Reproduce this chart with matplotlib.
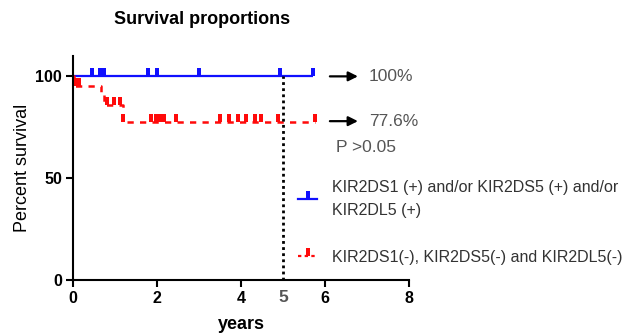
import numpy as np
import matplotlib
matplotlib.use("Agg")
import matplotlib.pyplot as plt
from matplotlib.lines import Line2D
from matplotlib.path import Path

plt.rcParams['font.family'] = ['Liberation Sans', 'DejaVu Sans']

# blue group: no events, censored patients only
blue_end = 5.71
blue_censor = [0.45, 0.64, 0.74, 1.79, 2.0, 3.0, 4.93, 5.71]
# red group: step times and survival (%)
red_times = [0, 0.03, 0.66, 0.73, 1.18]
red_surv = [100, 95.4, 91.2, 86.1, 77.6]
red_end = 5.76
red_censor = [0.06, 0.15, 0.8, 0.98, 1.12, 1.2, 1.85, 1.97, 2.06, 2.16, 2.45,
              3.5, 3.72, 3.92, 4.12, 4.33, 4.48, 4.88, 5.76]

labels = ["KIR2DS1 (+) and/or KIR2DS5 (+) and/or\nKIR2DL5 (+)",
          "KIR2DS1(-), KIR2DS5(-) and KIR2DL5(-)"]
blue = "#1010ff"
red = "#ff0a0a"
gray = "#555555"

# censor tick marker (rectangle sitting on top of the line)
tick = Path([(-0.32, 0), (0.32, 0), (0.32, 1), (-0.32, 1), (-0.32, 0)],
            [Path.MOVETO, Path.LINETO, Path.LINETO, Path.LINETO, Path.CLOSEPOLY])


def surv_at(t, times, surv):
    idx = np.searchsorted(times, t, side='right') - 1
    return np.array(surv)[idx]


fig = plt.figure(figsize=(6.29, 3.33), dpi=100)
ax = fig.add_axes([73/629, 1-280/333, 336/629, 224/333])

# blue curve
ax.plot([0, blue_end], [100, 100], color=blue, lw=1.6, solid_capstyle='butt')
ax.plot(blue_censor, [100]*len(blue_censor), ls='none', marker=tick, ms=11,
        color=blue, mew=0)

# red curve
rx = list(red_times) + [red_end]
ry = list(red_surv) + [red_surv[-1]]
ax.step(rx, ry, where='post', color=red, lw=1.8, ls=(0, (2.5, 2.5)))
ax.plot(red_censor, surv_at(red_censor, red_times, red_surv), ls='none',
        marker=tick, ms=11, color=red, mew=0)

# 5-year line
ax.plot([5, 5], [0, 100], color='black', lw=2, ls=(0, (1, 1.2)))

ax.set_xlim(0, 8)
ax.set_ylim(0, 110)
ax.set_xticks([0, 2, 4, 6, 8])
ax.set_yticks([0, 50, 100])
ax.spines['top'].set_visible(False)
ax.spines['right'].set_visible(False)
ax.spines['left'].set_linewidth(1.5)
ax.spines['bottom'].set_linewidth(1.5)
ax.spines['bottom'].set_bounds(0, 8)
ax.tick_params(width=1.5, length=5, labelsize=11.5, pad=3)
for lab in ax.get_xticklabels() + ax.get_yticklabels():
    lab.set_fontweight('bold')
ax.set_xlabel("years", fontsize=13, fontweight='bold', labelpad=7)
ax.set_ylabel("Percent survival", fontsize=13, labelpad=3)

ax.annotate("5", xy=(5, 0), xycoords='data', xytext=(0, -7),
            textcoords='offset points', ha='center', va='top',
            fontsize=12.5, fontweight='bold', color=gray, annotation_clip=False)

# arrows and percentages
for yv, txt in [(100, "100%"), (78, "77.6%")]:
    ax.annotate("", xy=(6.85, yv), xytext=(6.05, yv),
                arrowprops=dict(arrowstyle='-|>', color='black', lw=1.6,
                                mutation_scale=14), annotation_clip=False)
    ax.text(7.05, yv, txt, fontsize=12.5, color=gray, va='center',
            clip_on=False)
ax.text(6.25, 65, "P >0.05", fontsize=12.5, color=gray, va='center',
        clip_on=False)

fig.text(202/629, 1-20/333, "Survival proportions", ha='center', va='center',
         fontsize=13, fontweight='bold')

handles = [Line2D([], [], color=blue, lw=1.6, marker=tick, ms=11, mew=0),
           Line2D([], [], color=red, lw=1.6, ls=(0, (1.5, 1.5)), marker=tick,
                  ms=11, mew=0)]
leg = ax.legend(handles, labels, loc='upper left',
                bbox_to_anchor=(298/629, 1-180/333), bbox_transform=fig.transFigure,
                frameon=False, fontsize=11.5, handlelength=1.2,
                handletextpad=0.9, labelspacing=2.0, borderpad=0,
                borderaxespad=0, numpoints=1)
for t in leg.get_texts():
    t.set_color("#333333")
    t.set_linespacing(1.65)

fig.savefig("out.png", dpi=100)
